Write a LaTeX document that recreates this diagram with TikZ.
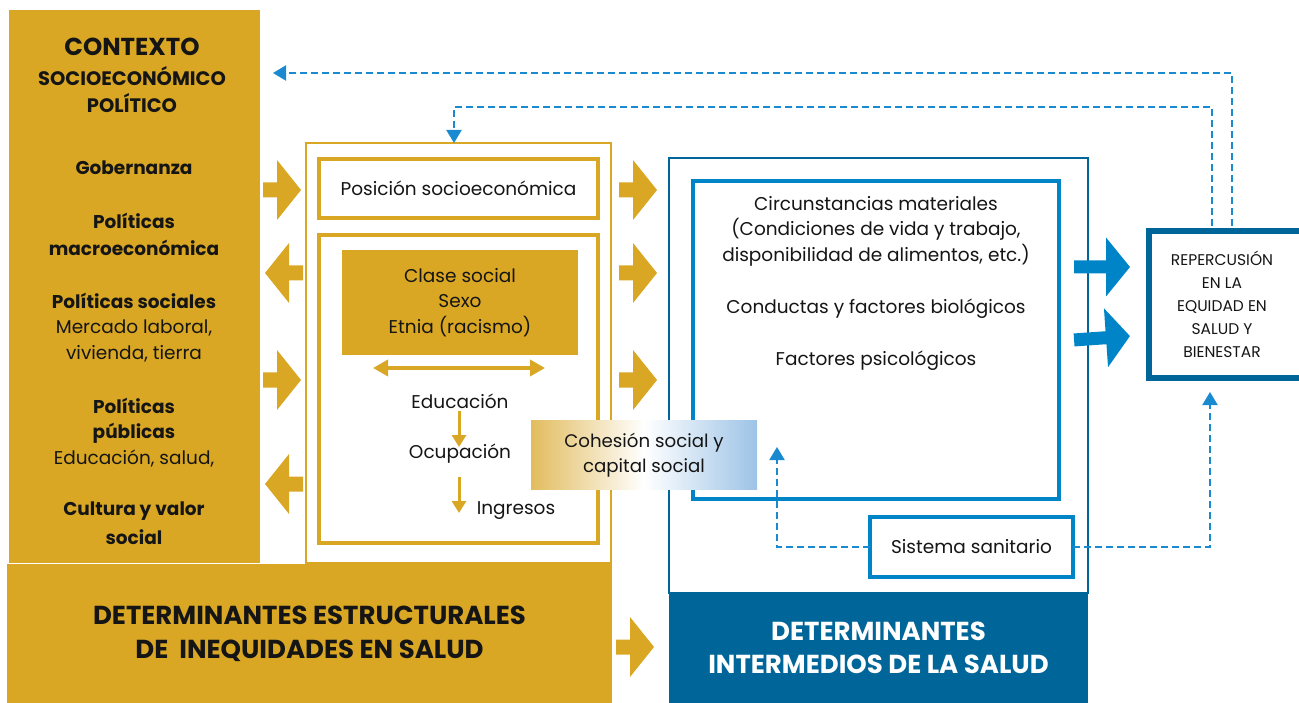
\documentclass[tikz,border=0pt]{standalone}
\usepackage{fontspec}
\setmainfont{Poppins}
\usetikzlibrary{arrows.meta}
\definecolor{gold}{HTML}{D9A724}
\definecolor{dblue}{HTML}{006699}
\definecolor{bblue}{HTML}{0084C8}
\definecolor{dashblue}{HTML}{1A8AD0}
\definecolor{gradgold}{HTML}{E2BC5E}
\definecolor{gradblue}{HTML}{9DC3E6}
\definecolor{txt}{HTML}{151515}
\begin{document}
\begin{tikzpicture}[x=1pt,y=-1pt,
  every node/.style={inner sep=0pt, outer sep=0pt, text=txt},
  bt/.style={font=\bfseries\fontsize{18.5}{22}\selectfont},
  rt/.style={font=\fontsize{18.5}{22}\selectfont},
  body/.style={font=\fontsize{18.5}{25.5}\selectfont, align=center},
  goldframe/.style={draw=gold, line width=4pt, fill=white},
  blueframe/.style={draw=bblue, line width=4pt, fill=white},
  dashline/.style={draw=dashblue, line width=2pt, dash pattern=on 7pt off 4pt,
     -{Triangle[width=15pt,length=13pt]}},
  garrow/.pic={\fill[gold] (-19,-7.5) -- (-5,-7.5) -- (-5,-30) -- (19,0) -- (-5,30) -- (-5,7.5) -- (-19,7.5) -- cycle;},
  barrow/.pic={\fill[bblue] (-28,-6.5) -- (4,-6.5) -- (4,-29.5) -- (28,0) -- (4,29.5) -- (4,6.5) -- (-28,6.5) -- cycle;},
]
\useasboundingbox (0,0) rectangle (1299,703);
\begin{scope}
\clip (0,0) rectangle (1299,703);

% ---------- left context box ----------
\node[fill=gold, minimum width=251, minimum height=553] (ctx) at (134.5,286.5) {};
\node[font=\bfseries\fontsize{24.5}{28}\selectfont] (c1) at (132,47) {CONTEXTO};
\node[font=\bfseries\fontsize{19.5}{22}\selectfont] (c2) at (132,76) {SOCIOECONÓMICO};
\node[font=\bfseries\fontsize{19.5}{22}\selectfont] (c3) at (132,103) {POLÍTICO};
\node[bt] (c4) at (134,168) {Gobernanza};
\node[bt] (c5) at (134,221) {Políticas};
\node[bt] (c6) at (134,248) {macroeconómica};
\node[bt] (c7) at (134,301) {Políticas sociales};
\node[rt] (c8) at (134,328) {Mercado laboral,};
\node[rt] (c9) at (134,354) {vivienda, tierra};
\node[bt] (c10) at (134,406) {Políticas};
\node[bt] (c11) at (134,433) {públicas};
\node[rt] (c12) at (134,459) {Educación, salud,};
\node[bt] (c13) at (134,511) {Cultura y valor};
\node[bt] (c14) at (134,537) {social};

% ---------- structural box ----------
\node[draw=gold, line width=2pt, minimum width=305, minimum height=420] (strout) at (458.5,353) {};
\node[goldframe, minimum width=279, minimum height=59, rt] (pos) at (458.5,188.5) {Posición socioeconómica};
\node[goldframe, minimum width=279, minimum height=308] (strin) at (458.5,389) {};
\node[fill=gold, minimum width=236, minimum height=105, body] (clase) at (460,302.5) {Clase social\\Sexo\\Etnia (racismo)};
\coordinate (dl) at (373,368);
\coordinate (dr) at (545,368);
\draw[gold, line width=3.5pt, {Triangle[width=16pt,length=15pt]}-{Triangle[width=16pt,length=15pt]}] (dl) -- (dr);
\node[rt] (edu) at (460,401) {Educación};
\node[rt] (ocu) at (460,454) {Ocupación};
\node[rt] (ing) at (516,511) {Ingresos};
\coordinate (a1s) at (459,411);
\coordinate (a1e) at (459,447);
\coordinate (a2s) at (459,477);
\coordinate (a2e) at (459,513);
\draw[gold, line width=3pt, -{Triangle[width=14pt,length=12pt]}] (a1s) -- (a1e);
\draw[gold, line width=3pt, -{Triangle[width=14pt,length=12pt]}] (a2s) -- (a2e);

% ---------- intermediate box ----------
\node[draw=dblue, line width=2pt, minimum width=419, minimum height=435] (intout) at (878.5,375.5) {};
\node[fill=dblue, minimum width=419, minimum height=110, align=center,
      font=\bfseries\fontsize{26}{33}\selectfont, text=white] (intbar) at (878.5,648) {DETERMINANTES\\INTERMEDIOS DE LA SALUD};
\node[blueframe, minimum width=366, minimum height=318] (intin) at (876,340) {};
\node[body] (circ) at (876,231) {Circunstancias materiales\\(Condiciones de vida y trabajo,\\disponibilidad de alimentos, etc.)};
\node[rt] (cond) at (876,309) {Conductas y factores biológicos};
\node[rt] (psic) at (876,361) {Factores psicológicos};
\node[blueframe, minimum width=203, minimum height=60, rt] (sis) at (971.5,547) {Sistema sanitario};

% ---------- outcome box ----------
\node[draw=dblue, line width=6pt, fill=white, minimum width=180, minimum height=147] (rep) at (1239,304.5) {};
\node[align=center, font=\fontsize{15.5}{23}\selectfont] (reptxt) at (1222,304) {REPERCUSIÓN\\EN LA\\EQUIDAD EN\\SALUD Y\\BIENESTAR};

% ---------- bottom structural bar ----------
\node[fill=gold, minimum width=605, minimum height=140, align=center,
      font=\bfseries\fontsize{26}{34}\selectfont] (strbar) at (309.5,634) {DETERMINANTES ESTRUCTURALES\\DE~~INEQUIDADES EN SALUD};

% ---------- block arrows ----------
\pic at (282,190) {garrow};
\pic at (282,380) {garrow};
\pic[rotate=180] at (284,273) {garrow};
\pic[rotate=180] at (284,484) {garrow};
\pic at (638,190) {garrow};
\pic at (638,273) {garrow};
\pic at (638,380) {garrow};
\pic at (635,647) {garrow};
\pic at (1102,267) {barrow};
\pic[rotate=4] at (1102,338) {barrow};

% ---------- dashed feedback connectors ----------
\coordinate (r1) at (1232,226);
\coordinate (t1) at (273,73);
\draw[dashline] (r1) |- (t1);
\coordinate (r2) at (1212,226);
\coordinate (m2) at (1212,107);
\coordinate (t2) at (454,143);
\draw[dashline] (r2) -- (m2) -| (t2);
\coordinate (t3) at (777,447);
\draw[dashline] (sis.west) -| (t3);
\coordinate (t4) at (1210,392);
\draw[dashline] (sis.east) -| (t4);

% ---------- cohesion (gradient) ----------
\node[left color=gradgold, right color=gradblue, middle color=white,
      minimum width=226, minimum height=69, align=center,
      font=\fontsize{18.2}{25}\selectfont] (coh) at (644,455) {Cohesión social y\\capital social};
\end{scope}
\end{tikzpicture}
\end{document}
